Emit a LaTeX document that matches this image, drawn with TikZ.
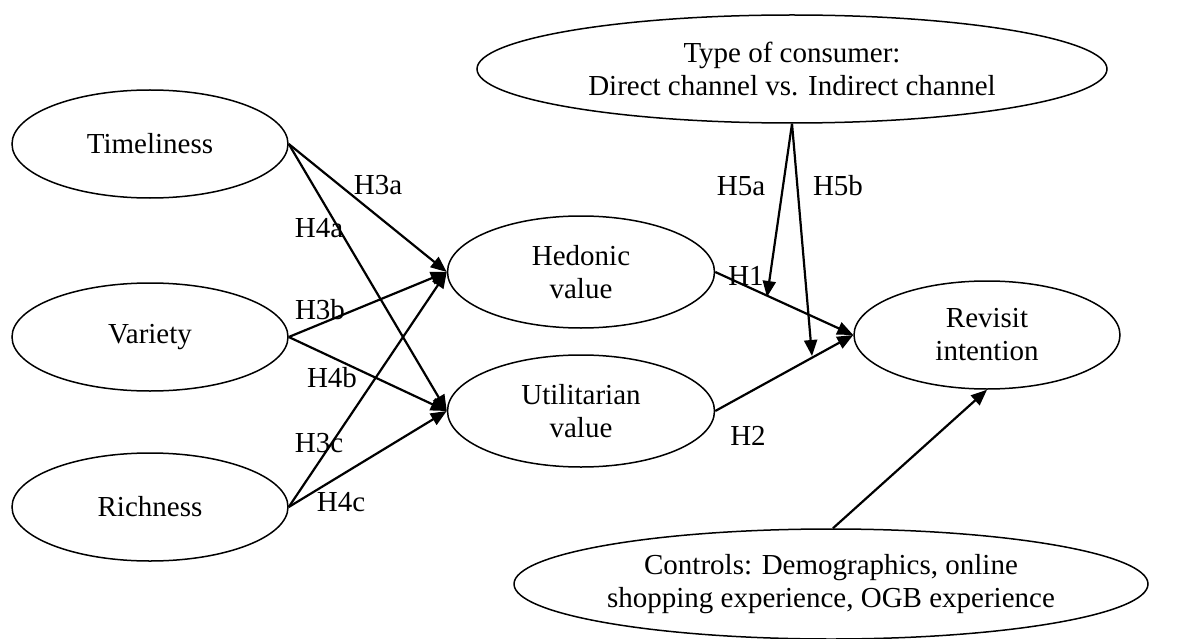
\documentclass[tikz,border=0pt]{standalone}
\usepackage{fontspec}
\setmainfont{Liberation Serif}
\usetikzlibrary{shapes.geometric,arrows.meta}
\begin{document}
\begin{tikzpicture}[x=1pt,y=-1pt,
  construct/.style={draw,ellipse,line width=1.5pt,inner sep=0pt,align=center,font=\fontsize{29}{33}\selectfont},
  link/.style={line width=2.2pt,-{Triangle[length=16pt,width=13pt]}},
  hlabel/.style={font=\fontsize{29}{33}\selectfont,inner sep=0pt}]
\useasboundingbox (0,0) rectangle (1190,639);
\node[construct,minimum width=276pt,minimum height=108pt] (tim) at (150,144) {Timeliness};
\node[construct,minimum width=276pt,minimum height=108pt] (var) at (150,337) {Variety};
\node[construct,minimum width=276pt,minimum height=108pt] (ric) at (150,507) {Richness};
\node[construct,minimum width=267pt,minimum height=112pt] (hed) at (581,272) {Hedonic\\value};
\node[construct,minimum width=267pt,minimum height=112pt] (uti) at (581,411) {Utilitarian\\value};
\node[construct,minimum width=266pt,minimum height=108pt] (rev) at (987,335) {Revisit\\intention};
\node[construct,minimum width=630pt,minimum height=108pt] (typ) at (792,69) {Type of consumer:\\Direct channel vs. Indirect channel};
\node[construct,minimum width=634pt,minimum height=110pt] (con) at (831,584) {Controls: Demographics, online\\shopping experience, OGB experience};
\coordinate (m1) at (767,297);
\coordinate (m2) at (812,356);
\draw[link] (tim.east) -- (hed.west);
\draw[link] (tim.east) -- (uti.west);
\draw[link] (var.east) -- (hed.west);
\draw[link] (var.east) -- (uti.west);
\draw[link] (ric.east) -- (hed.west);
\draw[link] (ric.east) -- (uti.west);
\draw[link] (hed.east) -- (rev.west);
\draw[link] (uti.east) -- (rev.west);
\draw[link] (typ.south) -- (m1);
\draw[link] (typ.south) -- (m2);
\draw[link] (con.88) -- (rev.south);
\node[hlabel] (l3a) at (378,185) {H3a};
\node[hlabel] (l4a) at (319,228) {H4a};
\node[hlabel] (l3b) at (320,310) {H3b};
\node[hlabel] (l4b) at (332,378) {H4b};
\node[hlabel] (l3c) at (319,443) {H3c};
\node[hlabel] (l4c) at (341,502) {H4c};
\node[hlabel] (l5a) at (741,186) {H5a};
\node[hlabel] (l5b) at (838,186) {H5b};
\node[hlabel] (l1) at (746,276) {H1};
\node[hlabel] (l2) at (748,436) {H2};
\end{tikzpicture}
\end{document}
